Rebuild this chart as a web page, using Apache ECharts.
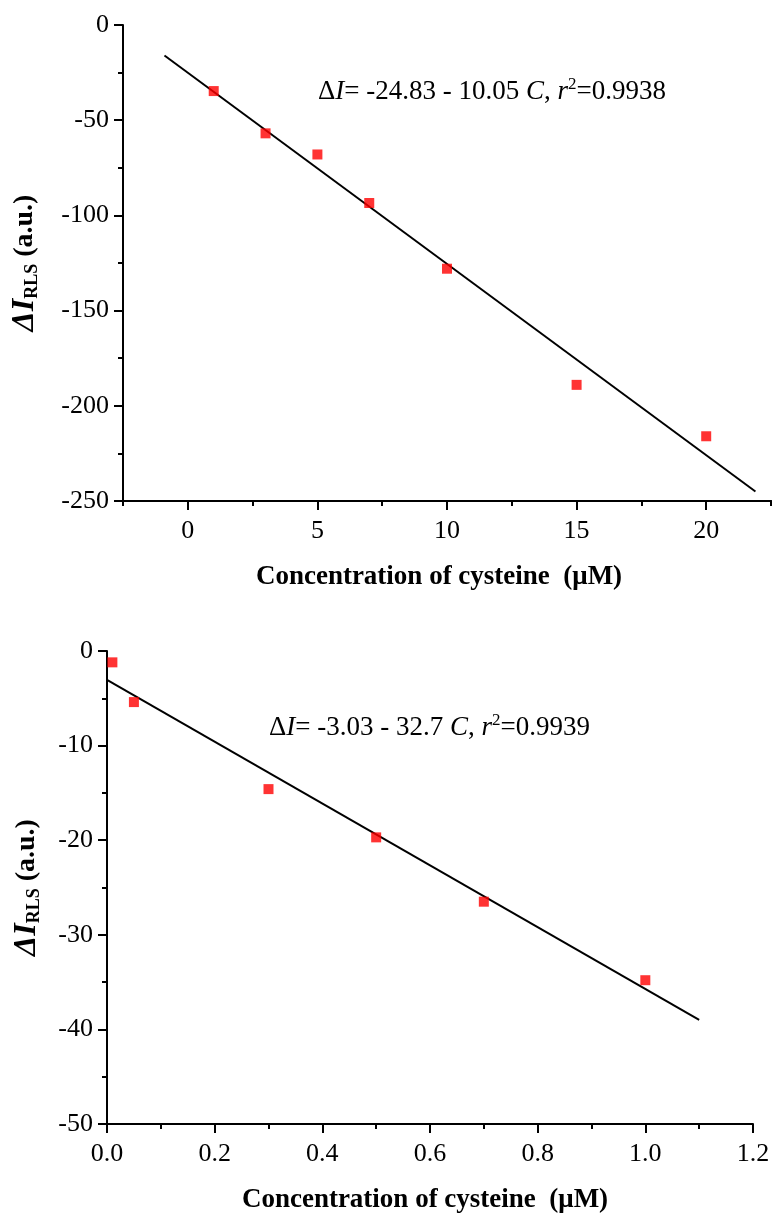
<!DOCTYPE html>
<html>
<head>
<meta charset="utf-8">
<script src="https://cdn.jsdelivr.net/npm/echarts@6/dist/echarts.min.js"></script>
<style>
  html, body { margin: 0; padding: 0; background: #fff; }
  #chart { width: 773px; height: 1216px; }
</style>
</head>
<body>
<div id="chart"></div>
<script>
// top panel: 0-20 uM
var topX = [1, 3, 5, 7, 10, 15, 20];
var topY = [-34.7, -56.9, -68, -93.5, -128, -189, -216];
var topFitX = [-0.9, 21.9];
var topFitY = [-16, -245];
var topXLabels = [0, 5, 10, 15, 20];

// bottom panel: 0-1 uM
var botX = [0.01, 0.05, 0.3, 0.5, 0.7, 1.0];
var botY = [-1.2, -5.4, -14.6, -19.7, -26.5, -34.8];
var botFitX = [0, 1.1];
var botFitY = [-3.05, -39.0];

var font = 'Liberation Serif';

function pairs(xs, ys) {
  var out = [];
  for (var i = 0; i < xs.length; i++) out.push([xs[i], ys[i]]);
  return out;
}

var chart = echarts.init(document.getElementById('chart'));

var axisLine = { onZero: false, lineStyle: { color: '#000', width: 2 } };
var tickStyle = { color: '#000', width: 2 };
var labelStyle = { color: '#000', fontFamily: font, fontSize: 26 };

var yName = '{d|Δ}{i|I}{s|RLS}{n| (a.u.)}';
var yNameRich = {
  d: { fontFamily: font, fontSize: 32, fontWeight: 'bold', fontStyle: 'italic', color: '#000' },
  i: { fontFamily: font, fontSize: 32, fontWeight: 'bold', fontStyle: 'italic', color: '#000' },
  s: { fontFamily: font, fontSize: 18, fontWeight: 'bold', color: '#000', verticalAlign: 'bottom', padding: [12, 0, 0, 0] },
  n: { fontFamily: font, fontSize: 28, fontWeight: 'bold', color: '#000' }
};
var xName = 'Concentration of cysteine  (μM)';

var eqRich = {
  t: { fontFamily: font, fontSize: 27, color: '#000', lineHeight: 32 },
  i: { fontFamily: font, fontSize: 27, fontStyle: 'italic', color: '#000', lineHeight: 32 },
  sup: { fontFamily: font, fontSize: 17, color: '#000', verticalAlign: 'top', lineHeight: 15 }
};

var option = {
  backgroundColor: '#fff',
  animation: false,
  grid: [
    { left: 123, top: 25, width: 648, height: 476 },
    { left: 107, top: 651, width: 646, height: 473 }
  ],
  xAxis: [
    {
      gridIndex: 0,
      type: 'value',
      min: -2.5,
      max: 22.5,
      interval: 2.5,
      position: 'bottom',
      axisLine: axisLine,
      axisTick: { show: true, length: 5, lineStyle: tickStyle },
      axisLabel: { show: false },
      splitLine: { show: false }
    },
    {
      gridIndex: 0,
      type: 'value',
      min: -2.5,
      max: 22.5,
      position: 'bottom',
      axisLine: axisLine,
      axisTick: { show: true, length: 9, lineStyle: tickStyle, customValues: topXLabels },
      axisLabel: Object.assign({ margin: 17, customValues: topXLabels }, labelStyle),
      splitLine: { show: false },
      name: xName,
      nameLocation: 'middle',
      nameGap: 63,
      nameTextStyle: { fontFamily: font, fontSize: 27, fontWeight: 'bold', color: '#000', padding: [0, 16, 0, 0] }
    },
    {
      gridIndex: 1,
      type: 'value',
      min: 0,
      max: 1.2,
      interval: 0.2,
      position: 'bottom',
      axisLine: axisLine,
      axisTick: { show: true, length: 9, lineStyle: tickStyle },
      minorTick: { show: true, splitNumber: 2, length: 5, lineStyle: tickStyle },
      axisLabel: Object.assign({
        margin: 17,
        formatter: function (v) { return v.toFixed(1); }
      }, labelStyle),
      splitLine: { show: false },
      name: xName,
      nameLocation: 'middle',
      nameGap: 63,
      nameTextStyle: { fontFamily: font, fontSize: 27, fontWeight: 'bold', color: '#000', padding: [0, 10, 0, 0] }
    }
  ],
  yAxis: [
    {
      gridIndex: 0,
      type: 'value',
      min: -250,
      max: 0,
      interval: 50,
      position: 'left',
      axisLine: axisLine,
      axisTick: { show: true, length: 9, lineStyle: tickStyle },
      minorTick: { show: true, splitNumber: 2, length: 5, lineStyle: tickStyle },
      axisLabel: Object.assign({ margin: 14 }, labelStyle),
      splitLine: { show: false },
      name: yName,
      nameLocation: 'middle',
      nameGap: 82,
      nameTextStyle: { rich: yNameRich }
    },
    {
      gridIndex: 1,
      type: 'value',
      min: -50,
      max: 0,
      interval: 10,
      position: 'left',
      axisLine: axisLine,
      axisTick: { show: true, length: 9, lineStyle: tickStyle },
      minorTick: { show: true, splitNumber: 2, length: 5, lineStyle: tickStyle },
      axisLabel: Object.assign({ margin: 14 }, labelStyle),
      splitLine: { show: false },
      name: yName,
      nameLocation: 'middle',
      nameGap: 64,
      nameTextStyle: { rich: yNameRich }
    }
  ],
  series: [
    {
      type: 'line',
      xAxisIndex: 0,
      yAxisIndex: 0,
      data: pairs(topFitX, topFitY),
      symbol: 'none',
      lineStyle: { color: '#000', width: 2 },
      z: 2
    },
    {
      type: 'scatter',
      xAxisIndex: 0,
      yAxisIndex: 0,
      data: pairs(topX, topY),
      symbol: 'rect',
      symbolSize: 10,
      itemStyle: { color: '#ff0000' },
      z: 3
    },
    {
      type: 'line',
      xAxisIndex: 2,
      yAxisIndex: 1,
      data: pairs(botFitX, botFitY),
      symbol: 'none',
      lineStyle: { color: '#000', width: 2 },
      z: 2
    },
    {
      type: 'scatter',
      xAxisIndex: 2,
      yAxisIndex: 1,
      data: pairs(botX, botY),
      symbol: 'rect',
      symbolSize: 10,
      itemStyle: { color: '#ff0000' },
      z: 3
    }
  ],
  graphic: [
    {
      type: 'text',
      left: 318,
      top: 76,
      style: {
        text: '{t|Δ}{i|I}{t|= -24.83 - 10.05 }{i|C}{t|, }{i|r}{sup|2}{t|=0.9938}',
        rich: eqRich
      }
    },
    {
      type: 'text',
      left: 269,
      top: 712,
      style: {
        text: '{t|Δ}{i|I}{t|= -3.03 - 32.7 }{i|C}{t|, }{i|r}{sup|2}{t|=0.9939}',
        rich: eqRich
      }
    }
  ]
};

chart.setOption(option);
</script>
</body>
</html>
